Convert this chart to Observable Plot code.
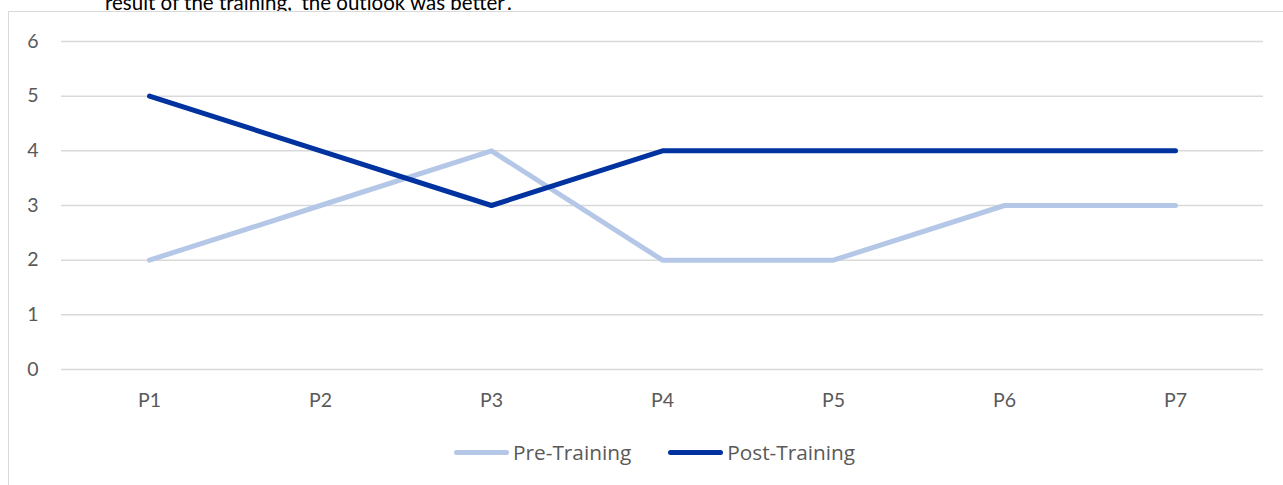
<!DOCTYPE html>
<html><head><meta charset="utf-8">
<script src="https://cdn.jsdelivr.net/npm/d3@7"></script>
<script src="https://cdn.jsdelivr.net/npm/@observablehq/plot@0.6"></script>
<style>
html,body{margin:0;padding:0;background:#fff}
body{width:1283px;height:485px;overflow:hidden;position:relative;font-family:Lato,sans-serif}
#title{position:absolute;left:105px;top:-8px;font-size:20.5px;line-height:20px;color:#000;white-space:nowrap;z-index:0}
#box{position:absolute;left:8px;top:11px;width:1320px;height:520px;border:1.5px solid #d9d9d9;background:#fff;z-index:1;box-sizing:border-box}
#chart{position:absolute;left:0;top:0;z-index:2}
#legend{position:absolute;left:454px;top:438px;z-index:2;display:flex;align-items:center;font-family:"Open Sans",sans-serif;font-size:20.8px;color:#595959;white-space:nowrap}
.item{display:flex;align-items:center}
.swatch{display:inline-block;width:55px;height:5px;border-radius:3px;margin-right:4px}
</style></head>
<body>
<div id="title">result of the training, ‘the outlook was better’.</div>
<div id="box"></div>
<div id="chart"></div>
<div id="legend"></div>
<script>
const categories = ["P1","P2","P3","P4","P5","P6","P7"];
const preTraining = [2,3,4,2,2,3,3];
const postTraining = [5,4,3,4,4,4,4];
const yTicks = [0,1,2,3,4,5,6];
const seriesNames = ["Pre-Training","Post-Training"];
const seriesColors = ["#B4C7E7","#0033A0"];

const data = [];
categories.forEach((c,i)=>{ data.push({cat:c,value:preTraining[i],series:seriesNames[0]}); });
categories.forEach((c,i)=>{ data.push({cat:c,value:postTraining[i],series:seriesNames[1]}); });

const chart = Plot.plot({
  width:1283, height:419,
  marginLeft:61, marginRight:20, marginTop:41, marginBottom:50,
  x:{type:"point", domain:categories, padding:0.5, label:null},
  y:{domain:[0,6], label:null},
  color:{domain:seriesNames, range:seriesColors},
  style:{fontFamily:"Lato, sans-serif", fontSize:"19.5px", color:"#595959", background:"transparent", overflow:"visible"},
  marks:[
    Plot.gridY(yTicks,{stroke:"#d9d9d9", strokeOpacity:1, strokeWidth:1.5}),
    Plot.axisY(yTicks,{tickSize:0, tickPadding:23, fill:"#595959", tickFormat:d=>String(d)}),
    Plot.axisX(categories,{tickSize:0, tickPadding:24, fill:"#595959"}),
    Plot.lineY(data,{x:"cat", y:"value", stroke:"series", z:"series", strokeWidth:5, strokeLinecap:"round", strokeLinejoin:"round"})
  ]
});
document.getElementById("chart").appendChild(chart);

const legend = document.getElementById("legend");
seriesNames.forEach((name,i)=>{
  const item = document.createElement("div");
  item.className = "item";
  if (i>0) item.style.marginLeft = "37px";
  const sw = document.createElement("span");
  sw.className = "swatch";
  sw.style.background = seriesColors[i];
  const t = document.createElement("span");
  t.textContent = name;
  item.appendChild(sw); item.appendChild(t);
  legend.appendChild(item);
});
</script>
</body></html>
